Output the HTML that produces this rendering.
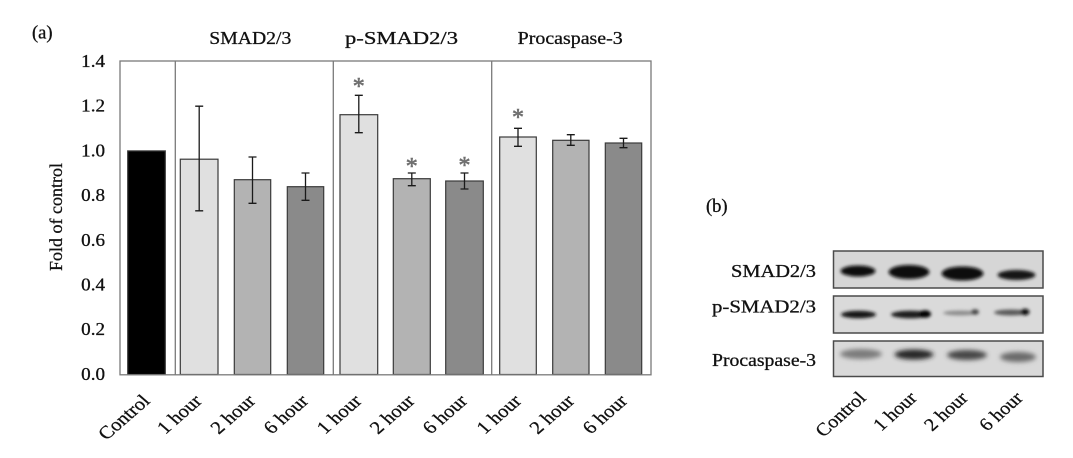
<!DOCTYPE html>
<html><head><meta charset="utf-8"><style>
html,body{margin:0;padding:0;background:#fff;}
svg{display:block;font-family:"Liberation Serif",serif;}
</style></head><body>
<svg width="1073" height="458" viewBox="0 0 1073 458" xmlns="http://www.w3.org/2000/svg">
<defs>
<filter id="bl" x="-30%" y="-100%" width="160%" height="300%"><feGaussianBlur stdDeviation="1.6"/></filter>
<filter id="bl2" x="-30%" y="-100%" width="160%" height="300%"><feGaussianBlur stdDeviation="2.4"/></filter>
</defs>
<rect width="1073" height="458" fill="#fff"/>

<g stroke="#111" stroke-width="0.3">
<!-- (a) -->
<text x="32" y="38.5" font-size="18.5" fill="#111">(a)</text>

<!-- titles -->
<text x="209.3" y="44" font-size="18" fill="#111" textLength="82" lengthAdjust="spacingAndGlyphs">SMAD2/3</text>
<text x="345" y="44" font-size="18" fill="#111" textLength="113" lengthAdjust="spacingAndGlyphs">p-SMAD2/3</text>
<text x="517.7" y="44" font-size="18" fill="#111" textLength="105" lengthAdjust="spacingAndGlyphs">Procaspase-3</text>

<!-- y axis label -->
<text transform="translate(62,217) rotate(-90)" text-anchor="middle" font-size="18" fill="#111">Fold of control</text>

<!-- y tick labels -->
<g font-size="18" fill="#111" text-anchor="end">
<text transform="translate(105,67) scale(1.06,1)">1.4</text>
<text transform="translate(105,111.7) scale(1.06,1)">1.2</text>
<text transform="translate(105,156.4) scale(1.06,1)">1.0</text>
<text transform="translate(105,201.1) scale(1.06,1)">0.8</text>
<text transform="translate(105,245.8) scale(1.06,1)">0.6</text>
<text transform="translate(105,290.5) scale(1.06,1)">0.4</text>
<text transform="translate(105,335.2) scale(1.06,1)">0.2</text>
<text transform="translate(105,379.9) scale(1.06,1)">0.0</text>
</g>
</g>

<!-- bars -->
<g stroke="#3a3a3a" stroke-width="1.2">
<rect x="127.7" y="150.9" width="37.6" height="223.6" fill="#000"/>
<rect x="180.3" y="159.2" width="37.7" height="215.3" fill="#e0e0e0"/>
<rect x="234.3" y="179.7" width="36.4" height="194.8" fill="#b3b3b3"/>
<rect x="287.3" y="186.7" width="36.4" height="187.8" fill="#8a8a8a"/>
<rect x="340" y="114.7" width="37.7" height="259.8" fill="#e0e0e0"/>
<rect x="393.3" y="178.7" width="37" height="195.8" fill="#b3b3b3"/>
<rect x="445.7" y="181" width="37.6" height="193.5" fill="#8a8a8a"/>
<rect x="499.7" y="137" width="36.6" height="237.5" fill="#e0e0e0"/>
<rect x="552.7" y="140.3" width="36.3" height="234.2" fill="#b3b3b3"/>
<rect x="605.3" y="143" width="36.4" height="231.5" fill="#8a8a8a"/>
</g>

<!-- plot frame and dividers -->
<g stroke="#7a7a7a" stroke-width="1.3" fill="none">
<rect x="120" y="61" width="531" height="313.8"/>
<line x1="175.3" y1="61" x2="175.3" y2="374.8"/>
<line x1="333.3" y1="61" x2="333.3" y2="374.8"/>
<line x1="491.7" y1="61" x2="491.7" y2="374.8"/>
</g>

<!-- error bars -->
<g stroke="#1a1a1a" stroke-width="1.3" fill="none">
<path d="M199.2 106.2V210.8M195.2 106.2H203.2M195.2 210.8H203.2"/>
<path d="M252.5 157V203.3M248.5 157H256.5M248.5 203.3H256.5"/>
<path d="M305.5 173V200.3M301.5 173H309.5M301.5 200.3H309.5"/>
<path d="M358.8 95.3V132.7M354.8 95.3H362.8M354.8 132.7H362.8"/>
<path d="M411.8 173V185.7M407.8 173H415.8M407.8 185.7H415.8"/>
<path d="M464.5 173V189M460.5 173H468.5M460.5 189H468.5"/>
<path d="M518 128.3V146.3M514 128.3H522M514 146.3H522"/>
<path d="M570.8 134.7V145.3M566.8 134.7H574.8M566.8 145.3H574.8"/>
<path d="M623.5 138.3V147.7M619.5 138.3H627.5M619.5 147.7H627.5"/>
</g>

<!-- asterisks -->
<g font-size="24" fill="#707070" stroke="#707070" stroke-width="0.6" text-anchor="middle">
<text x="358.8" y="94">*</text>
<text x="411.8" y="174">*</text>
<text x="464.5" y="173">*</text>
<text x="518" y="125">*</text>
</g>

<!-- x labels chart -->
<g font-size="18" fill="#111" stroke="#111" stroke-width="0.3" text-anchor="end">
<text transform="translate(151,402) scale(1.15,1) rotate(-45)">Control</text>
<text transform="translate(203,402) scale(1.15,1) rotate(-45)">1 hour</text>
<text transform="translate(256.5,402) scale(1.15,1) rotate(-45)">2 hour</text>
<text transform="translate(309.5,402) scale(1.15,1) rotate(-45)">6 hour</text>
<text transform="translate(362.8,402) scale(1.15,1) rotate(-45)">1 hour</text>
<text transform="translate(415.8,402) scale(1.15,1) rotate(-45)">2 hour</text>
<text transform="translate(468.5,402) scale(1.15,1) rotate(-45)">6 hour</text>
<text transform="translate(522.5,402) scale(1.15,1) rotate(-45)">1 hour</text>
<text transform="translate(575.5,402) scale(1.15,1) rotate(-45)">2 hour</text>
<text transform="translate(628.5,402) scale(1.15,1) rotate(-45)">6 hour</text>
</g>

<g stroke="#111" stroke-width="0.3">
<!-- (b) -->
<text x="706" y="212" font-size="18.5" fill="#111">(b)</text>

<!-- blot labels -->
<g font-size="18" fill="#111" text-anchor="end">
<text x="816" y="277" textLength="85" lengthAdjust="spacingAndGlyphs">SMAD2/3</text>
<text x="816" y="312.5" textLength="104" lengthAdjust="spacingAndGlyphs">p-SMAD2/3</text>
<text x="816" y="366" textLength="104" lengthAdjust="spacingAndGlyphs">Procaspase-3</text>
</g>
</g>

<!-- blot boxes -->
<g>
<rect x="833.5" y="251" width="209.5" height="37" fill="#d6d6d6"/>
<rect x="833.5" y="296" width="209.5" height="37" fill="#dadada"/>
<rect x="833.5" y="341" width="209.5" height="35.5" fill="#d9d9d9"/>
</g>
<!-- bands row1 -->
<g filter="url(#bl)">
<ellipse cx="858" cy="271" rx="17.5" ry="5.5" fill="#0d0d0d"/>
<ellipse cx="909" cy="272" rx="20.5" ry="7" fill="#0a0a0a"/>
<ellipse cx="962.5" cy="273.5" rx="21" ry="7" fill="#080808"/>
<ellipse cx="1016.5" cy="275" rx="19" ry="5" fill="#151515"/>
</g>
<!-- bands row2 -->
<g filter="url(#bl)">
<ellipse cx="858.5" cy="314.5" rx="17.5" ry="3.8" fill="#151515"/>
<ellipse cx="910.5" cy="314.5" rx="19.5" ry="3.8" fill="#1a1a1a"/>
<ellipse cx="925" cy="314" rx="6" ry="3.8" fill="#050505"/>
<ellipse cx="960" cy="313" rx="17" ry="2.4" fill="#8c8c8c"/>
<ellipse cx="975" cy="312" rx="4" ry="2.7" fill="#444"/>
<ellipse cx="1011" cy="312.5" rx="17" ry="3" fill="#5a5a5a"/>
<ellipse cx="1025" cy="312" rx="4.5" ry="3.2" fill="#111"/>
</g>
<!-- bands row3 -->
<g filter="url(#bl2)">
<ellipse cx="861" cy="354" rx="21" ry="5" fill="#7c7c7c"/>
<ellipse cx="914" cy="354.5" rx="19.5" ry="5" fill="#262626"/>
<ellipse cx="967" cy="355" rx="20" ry="5" fill="#474747"/>
<ellipse cx="1018" cy="357" rx="18" ry="5" fill="#6a6a6a"/>
</g>
<g fill="none" stroke="#4a4a4a" stroke-width="1.5">
<rect x="833.5" y="251" width="209.5" height="37"/>
<rect x="833.5" y="296" width="209.5" height="37"/>
<rect x="833.5" y="341" width="209.5" height="35.5"/>
</g>

<!-- blot x labels -->
<g font-size="18" fill="#111" stroke="#111" stroke-width="0.3" text-anchor="end">
<text transform="translate(867,399) scale(1.12,1) rotate(-45)">Control</text>
<text transform="translate(918,399) scale(1.12,1) rotate(-45)">1 hour</text>
<text transform="translate(969,399) scale(1.12,1) rotate(-45)">2 hour</text>
<text transform="translate(1024,399) scale(1.12,1) rotate(-45)">6 hour</text>
</g>
</svg>
</body></html>
